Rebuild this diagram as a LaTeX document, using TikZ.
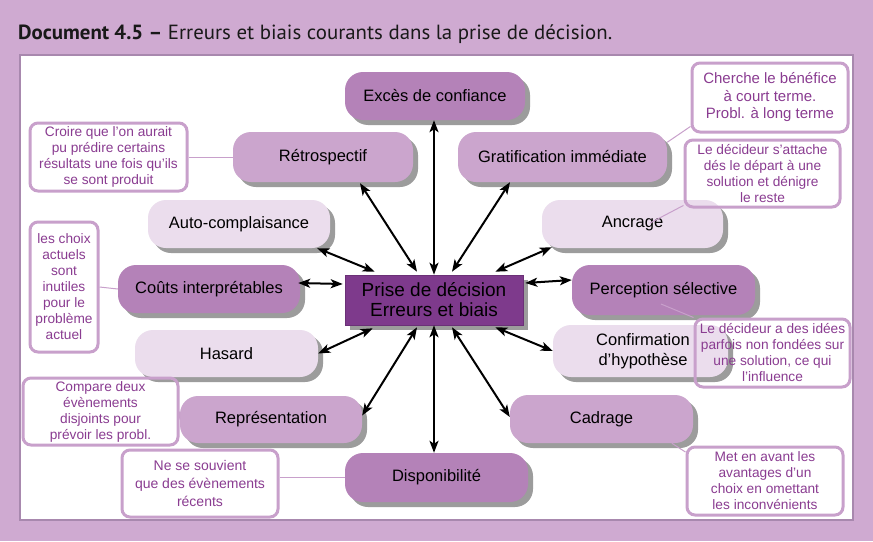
\documentclass[tikz,border=0pt]{standalone}
\usepackage{fontspec}
\usepackage{graphicx}
\setmainfont{Liberation Sans}
\newfontfamily\titlefont{PT Sans}
\usetikzlibrary{shadows,calc,arrows.meta}
\definecolor{bgpurple}{HTML}{CFAAD1}
\definecolor{panelborder}{HTML}{A888AE}
\definecolor{medp}{HTML}{B482B8}
\definecolor{lightp}{HTML}{CBA5CD}
\definecolor{vlightp}{HTML}{EBDDED}
\definecolor{darkp}{HTML}{7E3A8C}
\definecolor{shadowgray}{HTML}{9C9C9C}
\definecolor{noteborder}{HTML}{C8A0CB}
\definecolor{notetext}{HTML}{8A3C91}
\begin{document}
\begin{tikzpicture}[x=1pt,y=-1pt,
  bias/.style={rounded corners=18pt, inner sep=0pt, align=center, text=black,
    font=\fontsize{16.5}{20}\selectfont,
    drop shadow={shadow xshift=5pt,shadow yshift=-5pt,fill=shadowgray,opacity=1}},
  med/.style={bias, fill=medp},
  light/.style={bias, fill=lightp},
  vlight/.style={bias, fill=vlightp},
  note/.style={draw=noteborder, line width=3pt, rounded corners=8pt, text=notetext,
    align=center, inner sep=0pt, font=\fontsize{13.7}{16}\selectfont},
  link/.style={draw=noteborder, line width=1pt},
  biarrow/.style={{Stealth[length=12pt,width=9pt,inset=3pt]}-{Stealth[length=12pt,width=9pt,inset=3pt]}, line width=2pt}
]
% background and panel
\fill[bgpurple] (0,0) rectangle (873,541);
\useasboundingbox (0,0) rectangle (873,541);
\draw[panelborder, line width=1.5pt, fill=white] (20,55) rectangle (853,520);

\node[anchor=base west, inner sep=0pt, text=black!90] (title) at (18,39)
  {\resizebox{594pt}{\height}{\titlefont\fontsize{20.5}{24}\selectfont\textbf{Document 4.5 –} Erreurs et biais courants dans la prise de décision.}};

% bias nodes
\node[med, minimum width=180pt, minimum height=48pt] (exc) at (435,96) {Excès de confiance};
\node[light, minimum width=180pt, minimum height=50pt] (retro) at (323,157) {Rétrospectif};
\node[light, minimum width=209pt, minimum height=50pt] (grat) at (562.5,157) {Gratification immédiate};
\node[vlight, minimum width=182pt, minimum height=48pt] (auto) at (239,224) {Auto-complaisance};
\node[vlight, minimum width=181pt, minimum height=48pt] (ancr) at (632.5,224) {Ancrage};
\node[med, minimum width=182pt, minimum height=48pt] (couts) at (209,289) {Coûts interprétables};
\node[med, minimum width=183pt, minimum height=50pt] (perc) at (663.5,290) {Perception sélective};
\node[vlight, minimum width=183pt, minimum height=47pt] (hasard) at (226.5,353.5) {Hasard};
\node[vlight, minimum width=175pt, minimum height=52pt] (conf) at (640.5,351) {\hspace*{5pt}Confirmation\\\hspace*{5pt}d’hypothèse};
\node[light, minimum width=182pt, minimum height=47pt] (repr) at (271,419.5) {Représentation};
\node[light, minimum width=183pt, minimum height=48pt] (cadr) at (601.5,419) {Cadrage};
\node[med, minimum width=183pt, minimum height=49pt] (dispo) at (436.5,477.5) {Disponibilité};

\node[rectangle, fill=darkp, draw=darkp!85!black, line width=0.6pt, minimum width=178pt, minimum height=50pt,
  inner sep=0pt, align=center, font=\fontsize{19}{20}\selectfont,
  drop shadow={shadow xshift=5pt,shadow yshift=-5pt,fill=shadowgray,opacity=1}] (prise) at (434,300)
  {Prise de décision\\Erreurs et biais};

% arrows
\draw[biarrow] (prise.north) -- (prise.north |- exc.south);
\draw[biarrow] (prise.south) -- (prise.south |- dispo.north);
\draw[biarrow] ($(prise.north)+(-17,-3)$) -- ($(retro.south)+(37,1)$);
\draw[biarrow] ($(prise.north)+(18,-3)$) -- ($(grat.south)+(-52.5,0)$);
\draw[biarrow] ($(prise.north west)+(30,-3)$) -- ($(auto.south east)+(-13,0)$);
\draw[biarrow] ($(prise.north east)+(-28,-3)$) -- ($(ancr.south west)+(10,-1)$);
\draw[biarrow] ($(prise.west)+(-2,-16)$) -- ($(couts.east)+(-2,-6)$);
\draw[biarrow] ($(prise.east)+(2,-17)$) -- ($(perc.west)+(0,-10)$);
\draw[biarrow] ($(prise.south west)+(28,3)$) -- (hasard.east);
\draw[biarrow] ($(prise.south east)+(-28,2)$) -- (conf.west);
\draw[biarrow] ($(prise.south)+(-17,2)$) -- ($(repr.east)+(0,-4)$);
\draw[biarrow] ($(prise.south)+(18,2)$) -- ($(cadr.west)+(0,-2)$);

% annotation boxes
\node[note, minimum width=157pt, minimum height=68pt] (aretro) at (108.5,157)
  {Croire que l’on aurait\\pu prédire certains\\résultats une fois qu’ils\\se sont produit};
\node[note, minimum width=68pt, minimum height=130pt] (acouts) at (64,287)
  {les choix\\actuels\\sont\\inutiles\\pour le\\problème\\actuel};
\node[note, minimum width=155pt, minimum height=67pt] (arepr) at (100.5,411.5)
  {Compare deux\\évènements\\disjoints pour\\prévoir les probl.};
\node[note, minimum width=156pt, minimum height=67pt, font=\fontsize{14}{18}\selectfont] (adispo) at (200,483.5)
  {Ne se souvient\\que des évènements\\récents};
\node[note, minimum width=156pt, minimum height=69pt, font=\fontsize{15}{17.5}\selectfont] (agrat) at (770,97.5)
  {Cherche le bénéfice\\à court terme.\\Probl. à long terme};
\node[note, minimum width=155pt, minimum height=67pt] (aancr) at (762.5,173.5)
  {Le décideur s’attache\\dés le départ à une\\solution et dénigre\\le reste};
\node[note, minimum width=155pt, minimum height=68pt] (aconf) at (772.5,353)
  {Le décideur a des idées\\parfois non fondées sur\\une solution, ce qui\\l’influence};
\node[note, minimum width=156pt, minimum height=68pt] (acadr) at (765,481)
  {Met en avant les\\avantages d’un\\choix en omettant\\les inconvénients};

% links
\coordinate (ancrpt) at (650,223);
\coordinate (percpt) at (661,304);
\draw[link] (aretro.east) -- (retro.west);
\draw[link] (acouts.east) -- (couts.west);
\draw[link] (arepr.east) -- (repr.west);
\draw[link] (adispo.east |- dispo.west) -- (dispo.west);
\draw[link] (grat.8) -- (agrat.200);
\draw[link] (ancrpt) -- (aancr.202);
\draw[link] (percpt) -- (aconf.north west);
\draw[link] (cadr.-19) -- (acadr.160);
\end{tikzpicture}
\end{document}
